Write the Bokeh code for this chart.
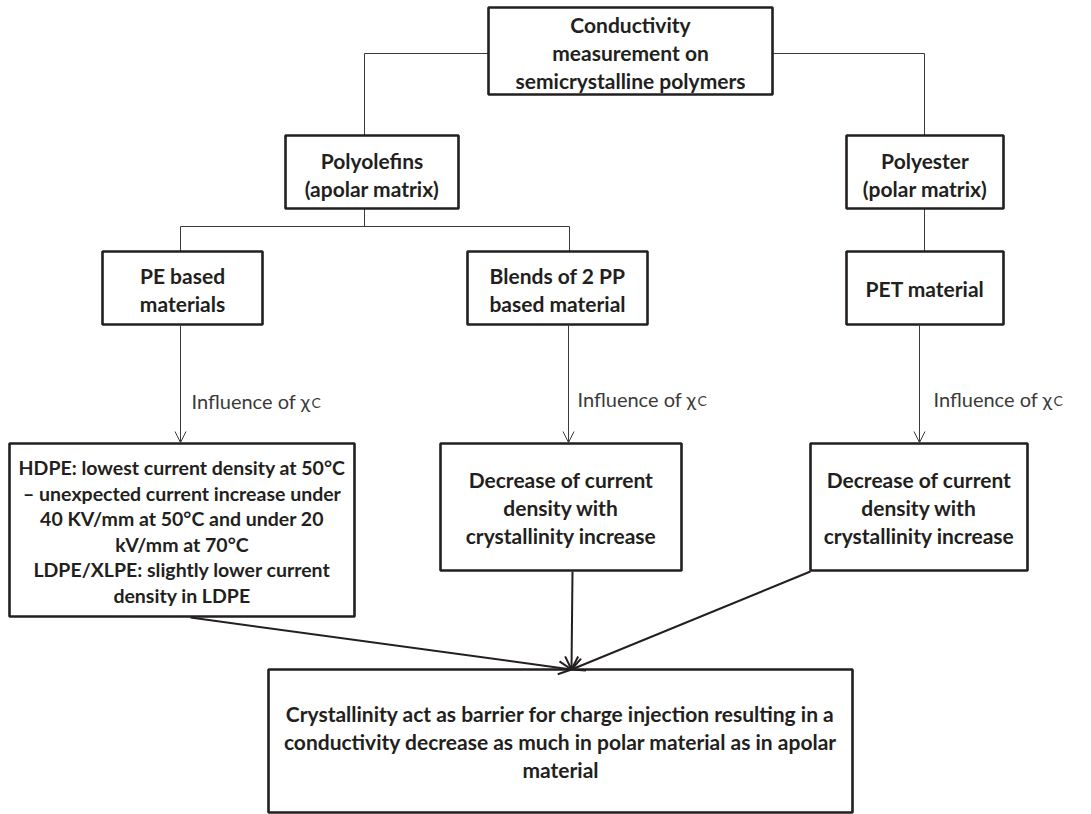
from bokeh.plotting import figure
from bokeh.models import Range1d, Arrow, OpenHead, ColumnDataSource
from bokeh.core.properties import value
from bokeh.embed import file_html
from bokeh.resources import INLINE

# ---- content ----
box_labels = [
    "Conductivity\nmeasurement on\nsemicrystalline polymers",
    "Polyolefins\n(apolar matrix)",
    "Polyester\n(polar matrix)",
    "PE based\nmaterials",
    "Blends of 2 PP\nbased material",
    "PET material",
    "HDPE: lowest current density at 50°C\n– unexpected current increase under\n40 KV/mm at 50°C and under 20\nkV/mm at 70°C\nLDPE/XLPE: slightly lower current\ndensity in LDPE",
    "Decrease of current\ndensity with\ncrystallinity increase",
    "Decrease of current\ndensity with\ncrystallinity increase",
    "Crystallinity act as barrier for charge injection resulting in a\nconductivity decrease as much in polar material as in apolar\nmaterial",
]
edge_label = "Influence of χ"
edge_label_sub = "C"

# ---- layout (pixel coordinates of the page) ----
box_x0 = [488, 285, 846, 102, 467, 846, 9, 440, 810, 268]
box_x1 = [772, 458, 1003, 262, 647, 1003, 354, 681, 1027, 852]
box_y0 = [7, 135, 135, 251, 251, 251, 443, 443, 443, 669]
box_y1 = [94, 208, 208, 324, 324, 324, 616, 570, 570, 812]
text_y = [52, 174, 174, 289, 289, 288, 531, 507, 507, 741]
font_px = ["21px"] * 6 + ["19.5px"] + ["21px"] * 3

# thin tree connectors (polylines)
conn_xs = [[488, 364, 364], [772, 924, 924], [364, 364], [180, 569],
           [180, 180], [569, 569], [924, 924]]
conn_ys = [[53, 53, 135], [53, 53, 135], [208, 226], [226, 226],
           [226, 251], [226, 251], [208, 251]]

# thin arrows
arr_x0 = [180, 568, 919]
arr_y0 = [324, 324, 324]
arr_x1 = [180, 568, 919]
arr_y1 = [442, 442, 442]
lab_x = [191, 577, 933]
lab_y = [400, 398, 398]

# thick converging arrows
cv_x0 = [190, 572, 810]
cv_y0 = [617, 571, 571]
cv_x1 = [571, 571, 571]
cv_y1 = [669, 669, 669]

INK = "#231f20"

p = figure(width=1091, height=814, x_range=Range1d(0, 1091), y_range=Range1d(814, 0),
           output_backend="svg", toolbar_location=None, min_border=0)
p.axis.visible = False
p.grid.visible = False
p.outline_line_color = None
p.background_fill_color = "white"

# connectors
p.multi_line(xs=conn_xs, ys=conn_ys, line_color="#3a3a3a", line_width=1)

# arrows
src_a = ColumnDataSource(dict(x0=arr_x0, y0=arr_y0, x1=arr_x1, y1=arr_y1))
p.add_layout(Arrow(source=src_a, x_start="x0", y_start="y0", x_end="x1", y_end="y1",
                   line_color="#3a3a3a", line_width=1,
                   end=OpenHead(size=11, line_width=1, line_color="#3a3a3a")))
src_c = ColumnDataSource(dict(x0=cv_x0, y0=cv_y0, x1=cv_x1, y1=cv_y1))
p.add_layout(Arrow(source=src_c, x_start="x0", y_start="y0", x_end="x1", y_end="y1",
                   line_color=INK, line_width=2,
                   end=OpenHead(size=13, line_width=2, line_color=INK)))

# boxes
p.quad(left=box_x0, right=box_x1, top=box_y0, bottom=box_y1,
       fill_color="white", line_color=INK, line_width=2.6)

cx = [(a + b) / 2 for a, b in zip(box_x0, box_x1)]
src_t = ColumnDataSource(dict(x=cx, y=text_y, text=box_labels, fs=font_px))
p.text(x="x", y="y", text="text", source=src_t, text_align="center", text_baseline="middle",
       text_font=value("Lato"), text_font_style="bold", text_font_size="fs",
       text_color=INK, text_line_height=1.11)

# edge labels
p.text(x=lab_x, y=lab_y, text=[edge_label] * 3, text_align="left",
       text_baseline="alphabetic", text_font=value("Lato"), text_font_size="20px",
       text_color="#3a3a3a")
p.text(x=[x + 120 for x in lab_x], y=[y + 2 for y in lab_y], text=[edge_label_sub] * 3,
       text_align="left", text_baseline="alphabetic", text_font=value("Lato"),
       text_font_size="14px", text_color="#3a3a3a")

open("out.html", "w").write(file_html(p, INLINE))
